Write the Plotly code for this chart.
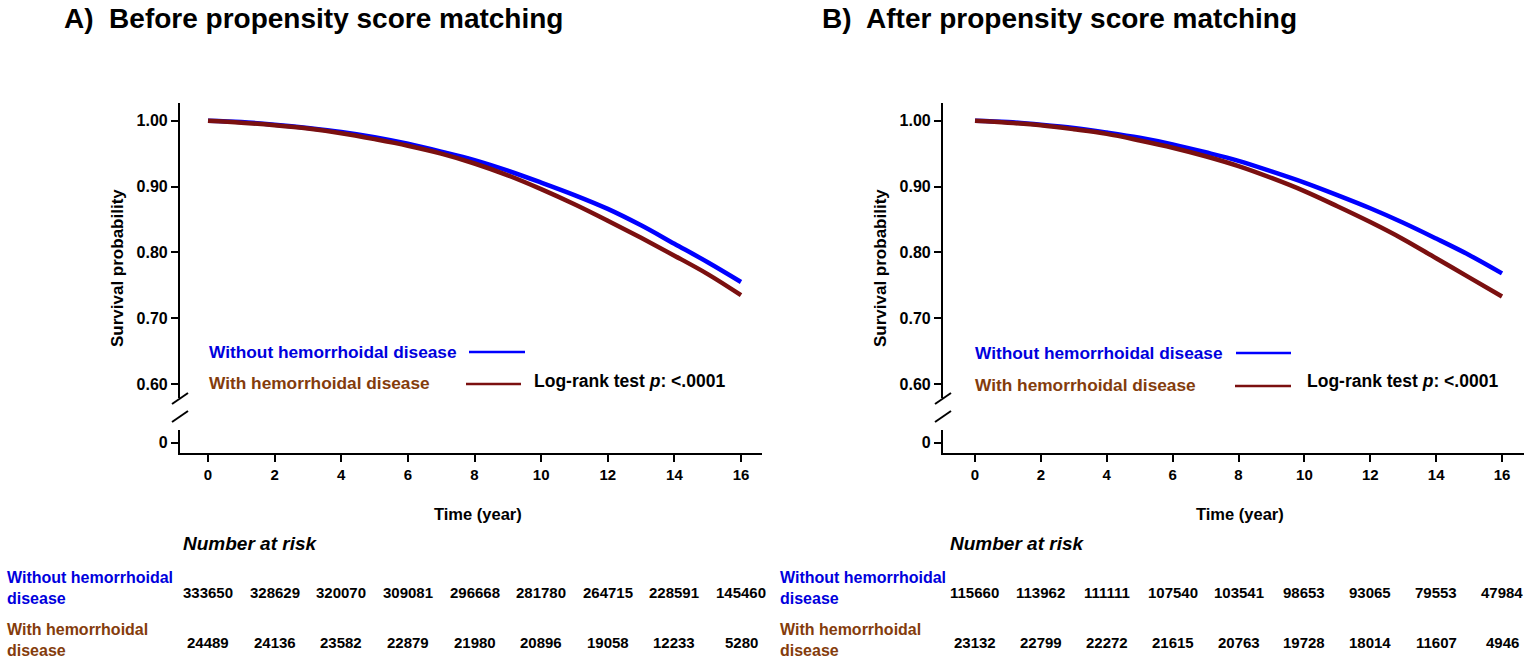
import plotly.graph_objects as go

# ---------------- data ----------------
years = [0, 1, 2, 3, 4, 5, 6, 7, 8, 9, 10, 11, 12, 13, 14, 15, 16]

a_without = [1.000, 0.998, 0.994, 0.989, 0.983, 0.975, 0.965, 0.953, 0.940,
             0.924, 0.906, 0.887, 0.866, 0.841, 0.813, 0.785, 0.755]
a_with = [1.000, 0.997, 0.993, 0.988, 0.981, 0.972, 0.962, 0.950, 0.935,
          0.917, 0.896, 0.873, 0.848, 0.822, 0.795, 0.767, 0.735]

b_without = [1.000, 0.998, 0.994, 0.989, 0.982, 0.974, 0.964, 0.952, 0.939,
             0.923, 0.906, 0.887, 0.867, 0.845, 0.821, 0.796, 0.768]
b_with = [1.000, 0.997, 0.993, 0.987, 0.980, 0.970, 0.959, 0.946, 0.931,
          0.913, 0.893, 0.870, 0.846, 0.820, 0.791, 0.762, 0.733]

risk_times = [0, 2, 4, 6, 8, 10, 12, 14, 16]
a_risk_without = [333650, 328629, 320070, 309081, 296668, 281780, 264715, 228591, 145460]
a_risk_with = [24489, 24136, 23582, 22879, 21980, 20896, 19058, 12233, 5280]
b_risk_without = [115660, 113962, 111111, 107540, 103541, 98653, 93065, 79553, 47984]
b_risk_with = [23132, 22799, 22272, 21615, 20763, 19728, 18014, 11607, 4946]

y_ticks = [0.60, 0.70, 0.80, 0.90, 1.00]
y_ticktext = ["0.60", "0.70", "0.80", "0.90", "1.00"]
x_ticks = [0, 2, 4, 6, 8, 10, 12, 14, 16]

titles = ["A)  Before propensity score matching", "B)  After propensity score matching"]
label_without = "Without hemorrhoidal disease"
label_with = "With hemorrhoidal disease"
logrank_text = "Log-rank test <i>p</i>: <.0001"

# ---------------- style ----------------
W, H = 1535, 663
FONT = "Arial, Liberation Sans, sans-serif"
BLUE_LINE = "#0000FF"
BLUE_TEXT = "#0000DD"
BROWN_LINE = "#7B1010"
BROWN_TEXT = "#843C0C"


def X(px):
    return px / W


def Y(py):
    return 1 - py / H


fig = go.Figure()

panels = [
    dict(xa="x", ya="y", ya_low="y2", x_left=180, x_right=762, x0=208, x16=741,
         without=a_without, with_=a_with, rw=a_risk_without, rh=a_risk_with,
         title=titles[0], title_x=62, ytitle_x=117, legend_x=207,
         bline=(469, 525, 352), rline=(466, 521, 384), logrank_x=532,
         xtitle_x=478, nar_x=181, lab_x=5),
    dict(xa="x2", ya="y3", ya_low="y4", x_left=943, x_right=1524, x0=975, x16=1502,
         without=b_without, with_=b_with, rw=b_risk_without, rh=b_risk_with,
         title=titles[1], title_x=820, ytitle_x=880, legend_x=973,
         bline=(1236, 1291, 353), rline=(1235, 1291, 386), logrank_x=1305,
         xtitle_x=1240, nar_x=948, lab_x=778),
]

# vertical geometry (pixels)
Y_TOP, Y_UP_BOT = 103, 398
Y_LOW_TOP, Y_AXIS = 430, 453
PX_PER_UNIT = (384 - 120.7) / 0.40
up_range = [0.60 - (Y_UP_BOT - 384) / PX_PER_UNIT, 1.00 + (120.7 - Y_TOP) / PX_PER_UNIT]
low_range = [-(Y_AXIS - 442.7) / PX_PER_UNIT, (442.7 - Y_LOW_TOP) / PX_PER_UNIT]

annotations = []
shapes = []
layout_axes = {}

for i, p in enumerate(panels):
    xa, ya, yl = p["xa"], p["ya"], p["ya_low"]
    ppy = (p["x16"] - p["x0"]) / 16.0
    xr = [(p["x_left"] - p["x0"]) / ppy, (p["x_right"] - p["x0"]) / ppy]

    fig.add_trace(go.Scatter(x=years, y=p["without"], mode="lines", xaxis=xa, yaxis=ya,
                             line=dict(color=BLUE_LINE, width=4.5, shape="spline"),
                             name=label_without, showlegend=False))
    fig.add_trace(go.Scatter(x=years, y=p["with_"], mode="lines", xaxis=xa, yaxis=ya,
                             line=dict(color=BROWN_LINE, width=4.5, shape="spline"),
                             name=label_with, showlegend=False))
    # empty trace so the lower (broken) axis segment gets its own subplot
    fig.add_trace(go.Scatter(x=[None], y=[None], mode="lines", xaxis=xa, yaxis=yl,
                             showlegend=False, hoverinfo="skip"))

    xkey = "xaxis" if xa == "x" else "xaxis2"
    ykey_up = "yaxis" if ya == "y" else "yaxis" + ya[1:]
    ykey_low = "yaxis" + yl[1:]

    layout_axes[xkey] = dict(
        domain=[X(p["x_left"]), X(p["x_right"])], range=xr, anchor=yl,
        tickvals=x_ticks, ticks="outside", ticklen=7, tickwidth=2, tickcolor="black",
        showline=True, linecolor="black", linewidth=2.2, showgrid=False, zeroline=False,
        tickfont=dict(family=FONT, size=15, color="black", weight="bold"),
        fixedrange=True,
    )
    layout_axes[ykey_up] = dict(
        domain=[Y(Y_UP_BOT), Y(Y_TOP)], range=up_range, anchor=xa,
        tickvals=y_ticks, ticktext=y_ticktext, ticks="outside", ticklen=7, tickwidth=2,
        tickcolor="black", showline=True, linecolor="black", linewidth=2.2,
        showgrid=False, zeroline=False,
        tickfont=dict(family=FONT, size=16, color="black", weight="bold"),
        fixedrange=True,
    )
    layout_axes[ykey_low] = dict(
        domain=[Y(Y_AXIS), Y(Y_LOW_TOP)], range=low_range, anchor=xa,
        tickvals=[0], ticktext=["0"], ticks="outside", ticklen=7, tickwidth=2,
        tickcolor="black", showline=True, linecolor="black", linewidth=2.2,
        showgrid=False, zeroline=False,
        tickfont=dict(family=FONT, size=16, color="black", weight="bold"),
        fixedrange=True,
    )

    # break marks on the y axis
    ax = p["x_left"]
    for (y1, y2) in [(404, 393), (422, 411)]:
        shapes.append(dict(type="line", xref="paper", yref="paper",
                           x0=X(ax - 8), y0=Y(y1), x1=X(ax + 8), y1=Y(y2),
                           line=dict(color="black", width=2)))

    # panel title
    annotations.append(dict(text="<b>" + p["title"] + "</b>", xref="paper", yref="paper",
                            x=X(p["title_x"]), y=Y(18), xanchor="left", yanchor="middle",
                            showarrow=False, font=dict(family=FONT, size=28, color="black")))
    # y title
    annotations.append(dict(text="<b>Survival probability</b>", xref="paper", yref="paper",
                            x=X(p["ytitle_x"]), y=Y(268), xanchor="center", yanchor="middle",
                            textangle=-90, showarrow=False,
                            font=dict(family=FONT, size=17, color="black")))
    # x title
    annotations.append(dict(text="<b>Time (year)</b>", xref="paper", yref="paper",
                            x=X(p["xtitle_x"]), y=Y(514), xanchor="center", yanchor="middle",
                            showarrow=False, font=dict(family=FONT, size=16.5, color="black")))
    # in-plot legend
    annotations.append(dict(text="<b>" + label_without + "</b>", xref="paper", yref="paper",
                            x=X(p["legend_x"]), y=Y(p["bline"][2]), xanchor="left",
                            yanchor="middle", showarrow=False,
                            font=dict(family=FONT, size=17.3, color=BLUE_TEXT)))
    annotations.append(dict(text="<b>" + label_with + "</b>", xref="paper", yref="paper",
                            x=X(p["legend_x"]), y=Y(p["rline"][2] - 1), xanchor="left",
                            yanchor="middle", showarrow=False,
                            font=dict(family=FONT, size=17.3, color=BROWN_TEXT)))
    annotations.append(dict(text="<b>" + logrank_text + "</b>", xref="paper", yref="paper",
                            x=X(p["logrank_x"]), y=Y(381), xanchor="left",
                            yanchor="middle", showarrow=False,
                            font=dict(family=FONT, size=17.5, color="black")))
    bx0, bx1, by = p["bline"]
    shapes.append(dict(type="line", xref="paper", yref="paper", x0=X(bx0), x1=X(bx1),
                       y0=Y(by), y1=Y(by), line=dict(color=BLUE_LINE, width=2.5)))
    rx0, rx1, ry = p["rline"]
    shapes.append(dict(type="line", xref="paper", yref="paper", x0=X(rx0), x1=X(rx1),
                       y0=Y(ry), y1=Y(ry), line=dict(color=BROWN_LINE, width=2.5)))

    # number-at-risk table
    annotations.append(dict(text="<b><i>Number at risk</i></b>", xref="paper", yref="paper",
                            x=X(p["nar_x"]), y=Y(543), xanchor="left", yanchor="middle",
                            showarrow=False, font=dict(family=FONT, size=19, color="black")))
    annotations.append(dict(text="<b>Without hemorrhoidal<br>disease</b>", xref="paper",
                            yref="paper", x=X(p["lab_x"]), y=Y(588), xanchor="left",
                            yanchor="middle", align="left", showarrow=False,
                            font=dict(family=FONT, size=16, color=BLUE_TEXT)))
    annotations.append(dict(text="<b>With hemorrhoidal<br>disease</b>", xref="paper",
                            yref="paper", x=X(p["lab_x"]), y=Y(640), xanchor="left",
                            yanchor="middle", align="left", showarrow=False,
                            font=dict(family=FONT, size=16, color=BROWN_TEXT)))
    for t, n in zip(risk_times, p["rw"]):
        annotations.append(dict(text="<b>%d</b>" % n, xref=xa, yref="paper", x=t, y=Y(592),
                                xanchor="center", yanchor="middle", showarrow=False,
                                font=dict(family=FONT, size=15, color="black")))
    for t, n in zip(risk_times, p["rh"]):
        annotations.append(dict(text="<b>%d</b>" % n, xref=xa, yref="paper", x=t, y=Y(642),
                                xanchor="center", yanchor="middle", showarrow=False,
                                font=dict(family=FONT, size=15, color="black")))

fig.update_layout(
    width=W, height=H, autosize=False,
    margin=dict(l=0, r=0, t=0, b=0),
    paper_bgcolor="white", plot_bgcolor="white",
    showlegend=False,
    annotations=annotations, shapes=shapes,
    **layout_axes,
)

fig.write_html(
    "out.html",
    config={"displayModeBar": False},
    post_script="document.body.style.margin='0';document.body.style.overflow='hidden';",
)
